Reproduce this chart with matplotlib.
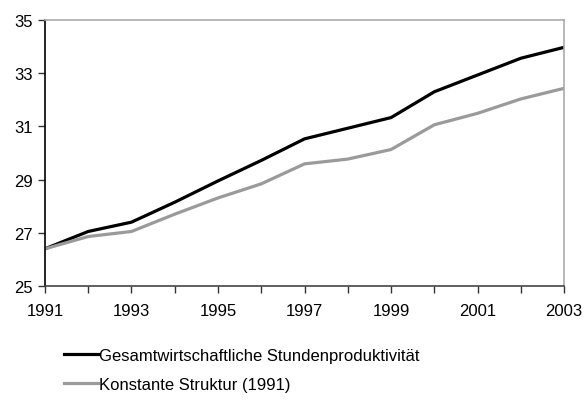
import matplotlib.pyplot as plt

plt.rcParams['font.family'] = ['Liberation Sans', 'DejaVu Sans']

# Data
years = list(range(1991, 2004))
gesamt = [26.4, 27.05, 27.4, 28.15, 28.95, 29.72, 30.53, 30.93, 31.33, 32.3, 32.93, 33.56, 33.97]
konstant = [26.4, 26.86, 27.05, 27.7, 28.31, 28.84, 29.59, 29.77, 30.13, 31.06, 31.49, 32.03, 32.43]
labels = ["Gesamtwirtschaftliche Stundenproduktivität", "Konstante Struktur (1991)"]

fig = plt.figure(figsize=(5.84, 4.02), dpi=100)
ax = fig.add_axes([0.077, 0.286, 0.889, 0.662])

ax.plot(years, gesamt, color="black", lw=2.3, label=labels[0], solid_joinstyle="round")
ax.plot(years, konstant, color="#9a9a9a", lw=2.3, label=labels[1], solid_joinstyle="round")

ax.set_xlim(1991, 2003)
ax.set_ylim(25, 35)
ax.set_xticks(years)
ax.set_xticklabels([str(y) if (y - 1991) % 2 == 0 else "" for y in years])
ax.set_yticks(range(25, 36, 2))
ax.tick_params(axis="both", direction="out", length=5, width=1, labelsize=12, colors="#333333", labelcolor="black")
ax.tick_params(axis="x", pad=7)
ax.tick_params(axis="y", pad=4)

ax.spines["left"].set_color("black")
ax.spines["bottom"].set_color("#444444")
ax.spines["top"].set_color("#aaaaaa")
ax.spines["right"].set_color("#aaaaaa")
for s in ax.spines.values():
    s.set_linewidth(1.2)

ax.legend(loc="upper left", bbox_to_anchor=(0.11, 0.132), bbox_transform=fig.transFigure,
          frameon=False, fontsize=12, handlelength=2.0, handletextpad=0.1,
          labelspacing=0.85, borderaxespad=0, borderpad=0)

fig.savefig("out.png", dpi=100)
